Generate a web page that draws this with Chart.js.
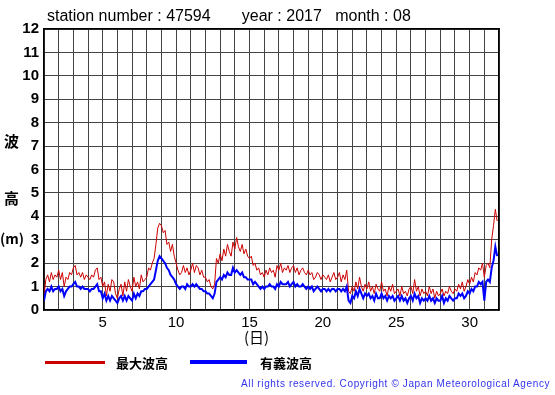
<!DOCTYPE html>
<html>
<head>
<meta charset="utf-8">
<script src="https://cdn.jsdelivr.net/npm/chart.js@4/dist/chart.umd.min.js"></script>
<style>
  body { margin: 0; background: #fff; }
  #wrap { position: relative; width: 555px; height: 395px; font-family: "Liberation Sans", Arial, sans-serif; }
  #wrap canvas { position: absolute; left: 0; top: 0; }
  .t { position: absolute; white-space: pre; color: #000; }
  .ylab { font-family: "Noto Sans CJK JP", sans-serif; font-weight: bold; font-size: 15px; }
  .leg { font-family: "Noto Sans CJK JP", sans-serif; font-weight: bold; font-size: 13px; }
</style>
</head>
<body>
<div id="wrap">
  <canvas id="waveChart" width="555" height="395"></canvas>
  <div class="t" style="left:47px; top:7px; font-size:16px;">station number : 47594       year : 2017   month : 08</div>
  <div class="t ylab" style="left:4px; top:130px;">波</div>
  <div class="t ylab" style="left:4px; top:187px;">高</div>
  <div class="t ylab" style="left:0px; top:228px; font-size:14px;">(m)</div>
  <div class="t ylab" style="left:244px; top:326px; font-weight:normal; font-size:15px;">(日)</div>
  <div style="position:absolute; left:45px; top:361px; width:60px; height:3px; background:#cc0000;"></div>
  <div class="t leg" style="left:116px; top:353px;">最大波高</div>
  <div style="position:absolute; left:190px; top:360px; width:57px; height:4px; background:#0000ff;"></div>
  <div class="t leg" style="left:260px; top:353px;">有義波高</div>
  <div class="t" style="left:241px; top:378px; font-size:10px; letter-spacing:0.62px; color:#3333ee;">All rights reserved. Copyright © Japan Meteorological Agency</div>
</div>
<script>
// 3-hourly readings, Aug 1 00h .. Aug 31 21h
const stepHours = 3;
const dayTicks = [5, 10, 15, 20, 25, 30];
const yTicks = [0, 1, 2, 3, 4, 5, 6, 7, 8, 9, 10, 11, 12];

const maxWave = [
  0.6, 1.3, 1.5, 1.2, 1.6, 1.3, 1.5, 1.4,
  1.7, 1.3, 1.6, 1.0, 1.4, 1.3, 1.6, 1.5,
  1.8, 1.9, 1.5, 1.6, 1.4, 1.6, 1.3, 1.5,
  1.4, 1.3, 1.5, 1.4, 1.7, 1.8, 1.3, 1.4,
  1.0, 1.2, 0.6, 1.1, 0.8, 1.3, 1.2, 0.7,
  0.5, 0.9, 1.1, 0.6, 1.2, 0.8, 1.3, 1.0,
  0.8, 1.4, 1.0, 1.2, 0.9, 1.5, 1.2, 1.3,
  1.4, 1.8, 1.7, 2.0, 2.2, 2.8, 3.5, 3.7,
  3.6, 3.3, 3.4, 2.8, 2.9, 2.5, 2.8, 2.3,
  2.0, 1.7, 1.5, 1.6, 1.9, 1.6, 1.8, 1.5,
  1.7, 2.0, 1.6, 1.9, 1.8, 1.5, 1.7, 1.4,
  1.4, 1.2, 1.3, 1.0, 0.9, 1.1, 2.2, 2.0,
  2.4, 2.1, 2.6, 2.3, 2.8, 2.5, 2.3, 2.9,
  2.6, 3.1, 2.7, 2.5, 2.8, 2.4, 2.6, 2.3,
  2.2, 2.3, 1.9, 2.0, 1.7, 1.8, 1.5, 1.6,
  1.4, 1.7, 1.5, 1.8, 1.6, 1.7, 1.4, 1.9,
  1.7, 2.0, 1.6, 1.8, 1.7, 1.9, 1.6, 1.8,
  1.9, 1.6, 1.8, 1.5, 1.7, 1.8, 1.6, 1.5,
  1.7, 1.5, 1.6, 1.3, 1.4, 1.6, 1.5, 1.3,
  1.5, 1.4, 1.3, 1.5, 1.2, 1.4, 1.6, 1.3,
  1.4, 1.6, 1.2, 1.5, 1.3, 1.7, 0.8, 0.7,
  1.0, 0.8, 1.2, 0.9, 1.4, 1.0, 0.8, 1.1,
  0.9, 1.2, 0.8, 1.0, 0.7, 1.1, 0.9, 0.8,
  1.2, 0.8, 0.9, 0.6, 1.0, 0.8, 1.1, 0.7,
  0.8, 0.9, 0.6, 1.0, 0.7, 0.8, 0.6, 0.9,
  1.0, 0.7, 1.3, 0.8, 1.0, 0.6, 0.9, 0.7,
  0.8, 0.6, 1.0, 0.7, 0.9, 0.5, 0.8, 0.6,
  0.7, 0.9, 0.6, 0.8, 0.7, 1.0, 0.8, 0.7,
  0.9, 0.8, 1.1, 0.9, 1.2, 0.8, 1.0, 1.3,
  1.1, 1.4, 1.2, 1.6, 1.5, 1.8, 1.7, 2.0,
  1.4, 1.9, 2.0, 1.8, 3.0, 3.6, 4.3, 3.8,
];

const sigWave = [
  0.4, 0.8, 0.9, 0.8, 1.0, 0.8, 0.9, 0.9,
  1.0, 0.8, 0.9, 0.6, 0.8, 0.9, 1.0, 1.0,
  1.1, 1.2, 1.0, 1.0, 0.9, 1.0, 0.9, 0.9,
  0.9, 0.8, 0.9, 0.9, 1.0, 1.1, 0.8, 0.8,
  0.5, 0.7, 0.4, 0.6, 0.4, 0.6, 0.5, 0.4,
  0.3, 0.5, 0.6, 0.4, 0.6, 0.4, 0.6, 0.5,
  0.4, 0.7, 0.5, 0.7, 0.6, 0.8, 0.8, 0.9,
  0.9, 1.0, 1.1, 1.2, 1.3, 1.7, 2.1, 2.3,
  2.2, 2.1, 2.0, 1.8, 1.7, 1.5, 1.4, 1.3,
  1.1, 1.0, 0.9, 1.0, 1.0, 0.9, 1.1, 1.0,
  1.0, 1.1, 1.0, 1.1, 1.0, 0.9, 0.9, 0.8,
  0.8, 0.7, 0.7, 0.6, 0.5, 0.7, 1.2, 1.3,
  1.4, 1.3, 1.5, 1.4, 1.6, 1.5, 1.5, 1.8,
  1.6, 1.7, 1.6, 1.5, 1.6, 1.4, 1.4, 1.3,
  1.3, 1.3, 1.1, 1.2, 1.1, 1.0, 0.9, 1.0,
  0.9, 1.0, 1.0, 1.1, 1.0, 1.0, 0.9, 1.1,
  1.0, 1.2, 1.1, 1.1, 1.1, 1.2, 1.0, 1.1,
  1.2, 1.0, 1.1, 1.0, 1.0, 1.1, 1.0, 0.9,
  1.0, 0.9, 1.0, 0.8, 0.9, 1.0, 0.9, 0.8,
  0.9, 0.9, 0.8, 0.9, 0.8, 0.9, 0.9, 0.8,
  0.9, 0.9, 0.8, 0.9, 0.8, 1.0, 0.4, 0.3,
  0.6, 0.5, 0.8, 0.6, 0.9, 0.7, 0.5, 0.7,
  0.6, 0.7, 0.5, 0.6, 0.4, 0.7, 0.5, 0.5,
  0.7, 0.5, 0.6, 0.4, 0.6, 0.5, 0.6, 0.4,
  0.5, 0.6, 0.4, 0.6, 0.4, 0.5, 0.3, 0.5,
  0.6, 0.4, 0.7, 0.5, 0.6, 0.3, 0.5, 0.4,
  0.5, 0.4, 0.6, 0.4, 0.5, 0.3, 0.5, 0.4,
  0.4, 0.6, 0.3, 0.5, 0.4, 0.6, 0.5, 0.4,
  0.5, 0.5, 0.7, 0.6, 0.7, 0.5, 0.6, 0.8,
  0.7, 0.9, 0.8, 1.0, 1.0, 1.2, 1.1, 1.2,
  0.4, 1.2, 1.3, 1.2, 1.8, 2.1, 2.7, 2.3,
];

const toPoints = (arr) => arr.map((v, i) => ({ x: 1 + (i * stepHours) / 24, y: v }));

new Chart(document.getElementById("waveChart"), {
  type: "line",
  data: {
    datasets: [
      {
        label: "有義波高",
        data: toPoints(sigWave),
        borderColor: "#0000ff",
        borderWidth: 2,
        tension: 0,
        order: 1,
      },
      {
        label: "最大波高",
        data: toPoints(maxWave),
        borderColor: "#cc0000",
        borderWidth: 1,
        tension: 0,
        order: 2,
      },
    ],
  },
  options: {
    responsive: false,
    animation: false,
    layout: { padding: { top: 29, right: 56, left: 0, bottom: 0 } },
    plugins: {
      legend: { display: false },
      tooltip: { enabled: false },
    },
    elements: { point: { radius: 0 } },
    scales: {
      x: {
        type: "linear",
        min: 1,
        max: 32,
        afterFit: (scale) => { scale.height = 85; },
        afterBuildTicks: (axis) => {
          const t = [];
          for (let d = 1; d <= 32; d++) t.push({ value: d });
          axis.ticks = t;
        },
        grid: { color: "#444", lineWidth: 1, tickLength: 0, drawTicks: false },
        border: { color: "#000", width: 1.5 },
        ticks: {
          autoSkip: false,
          maxRotation: 0,
          padding: 4,
          color: "#000",
          font: { family: "Liberation Sans", size: 15 },
          callback: (v) => (dayTicks.includes(v) ? String(v) : ""),
        },
      },
      y: {
        min: 0,
        max: 12,
        afterFit: (scale) => { scale.width = 44; },
        afterBuildTicks: (axis) => { axis.ticks = yTicks.map((value) => ({ value })); },
        grid: { color: "#444", lineWidth: 1, tickLength: 0, drawTicks: false },
        border: { color: "#000", width: 1.5 },
        ticks: {
          padding: 5,
          color: "#000",
          font: { family: "Liberation Sans", size: 15, weight: "bold" },
        },
      },
      x2: {
        type: "linear",
        position: "top",
        min: 1,
        max: 32,
        afterFit: (scale) => { scale.height = 0; },
        grid: { display: false, drawTicks: false },
        border: { color: "#000", width: 1.5 },
        ticks: { display: false },
      },
      y2: {
        position: "right",
        min: 0,
        max: 12,
        afterFit: (scale) => { scale.width = 0; },
        grid: { display: false, drawTicks: false },
        border: { color: "#000", width: 1.5 },
        ticks: { display: false },
      },
    },
  },
});
</script>
</body>
</html>
